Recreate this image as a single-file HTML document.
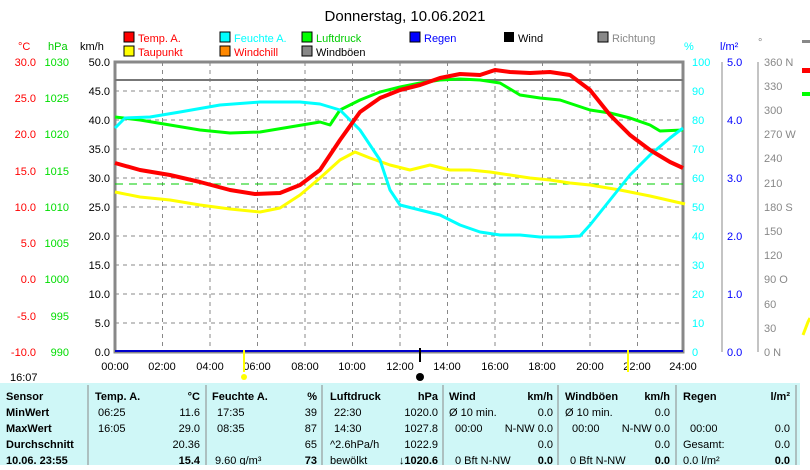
<!DOCTYPE html><html><head><style>body{margin:0;background:#fff;width:810px;height:465px;overflow:hidden;font-family:"Liberation Sans",sans-serif}
svg text{font-family:"Liberation Sans",sans-serif;font-size:11px}</style></head><body>
<svg width="810" height="465" viewBox="0 0 810 465" xmlns="http://www.w3.org/2000/svg">
<text x="405" y="21" text-anchor="middle" style="font-size:15px">Donnerstag, 10.06.2021</text>
<g style="font-size:11px">
<rect x="124" y="32" width="10" height="10" fill="#f00" stroke="#000"/><text x="138" y="42" fill="#f00">Temp. A.</text>
<rect x="124" y="46" width="10" height="10" fill="#ff0" stroke="#000"/><text x="138" y="56" fill="#f00">Taupunkt</text>
<rect x="220" y="32" width="10" height="10" fill="#0ff" stroke="#000"/><text x="234" y="42" fill="#0ff">Feuchte A.</text>
<rect x="220" y="46" width="10" height="10" fill="#f80" stroke="#000"/><text x="234" y="56" fill="#f00">Windchill</text>
<rect x="302" y="32" width="10" height="10" fill="#0f0" stroke="#000"/><text x="316" y="42" fill="#0c0">Luftdruck</text>
<rect x="302" y="46" width="10" height="10" fill="#888" stroke="#000"/><text x="316" y="56">Windböen</text>
<rect x="410" y="32" width="10" height="10" fill="#00f" stroke="#000"/><text x="424" y="42" fill="#00f">Regen</text>
<rect x="504" y="32" width="10" height="10" fill="#000"/><text x="518" y="42">Wind</text>
<rect x="598" y="32" width="10" height="10" fill="#888" stroke="#000"/><text x="612" y="42" fill="#888">Richtung</text>
<text x="18" y="50" fill="#f00">°C</text><text x="48" y="50" fill="#0c0">hPa</text><text x="80" y="50">km/h</text>
<text x="684" y="50" fill="#0ff">%</text><text x="720" y="50" fill="#00f">l/m²</text><text x="758" y="46" fill="#888">°</text>
</g>
<g stroke="#888" stroke-dasharray="4,4" stroke-width="1">
<path d="M115 91H683M115 120H683M115 149H683M115 178H683M115 207H683M115 236H683M115 265H683M115 294H683M115 323H683"/>
<path d="M162.5 62V352M210 62V352M257.5 62V352M305 62V352M352.5 62V352M400 62V352M447.5 62V352M495 62V352M542.5 62V352M590 62V352M637.5 62V352"/>
</g>
<rect x="115" y="62" width="568" height="290" fill="none" stroke="#888" stroke-width="3"/>
<line x1="115" y1="80" x2="683" y2="80" stroke="#777" stroke-width="2"/>
<line x1="115" y1="351" x2="683" y2="351" stroke="#00c" stroke-width="2"/>
<line x1="115" y1="184" x2="683" y2="184" stroke="#0c0" stroke-dasharray="8,6"/>
<g fill="none" stroke-width="3" stroke-linejoin="round">
<polyline stroke="#ff0" points="115,192 140,197 170,200 200,205 230,209 260,212 280,208 300,195 320,178 340,160 355,152 370,158 390,165 410,170 430,165 450,170 470,170 490,172 510,175 530,178 550,180 570,183 590,185 620,190 650,196 685,204"/>
<polyline stroke="#0f0" points="115,117 140,120 170,125 200,130 230,133 260,132 290,127 320,122 330,125 340,110 360,100 380,92 400,87 420,83 440,80 460,79 480,80 500,83 520,95 540,98 560,100 575,105 590,110 610,113 630,118 650,125 660,131 683,130"/>
<polyline stroke="#0ff" points="115,128 125,118 150,117 180,112 220,105 260,102 300,102 320,104 340,110 360,130 380,160 390,190 400,205 420,210 440,215 460,225 480,232 500,235 520,235 540,237 560,237 580,236 590,225 610,200 630,175 650,155 670,138 683,128"/>
<polyline stroke="#f00" stroke-width="4" points="115,163 140,170 170,175 200,182 230,190 255,194 280,193 300,185 320,170 340,140 360,112 380,98 400,90 420,85 440,78 460,74 480,75 495,70 510,72 530,73 550,72 570,75 590,90 610,115 630,135 650,150 670,162 683,168"/>
</g>
<g style="font-size:11px" text-anchor="end" fill="#f00">
<text x="36" y="66">30.0</text><text x="36" y="102">25.0</text><text x="36" y="138">20.0</text><text x="36" y="175">15.0</text><text x="36" y="211">10.0</text><text x="36" y="247">5.0</text><text x="36" y="283">0.0</text><text x="36" y="320">-5.0</text><text x="36" y="356">-10.0</text>
</g>
<g style="font-size:11px" text-anchor="end" fill="#0d0">
<text x="69" y="66">1030</text><text x="69" y="102">1025</text><text x="69" y="138">1020</text><text x="69" y="175">1015</text><text x="69" y="211">1010</text><text x="69" y="247">1005</text><text x="69" y="283">1000</text><text x="69" y="320">995</text><text x="69" y="356">990</text>
</g>
<g style="font-size:11px" text-anchor="end">
<text x="110" y="66">50.0</text><text x="110" y="95">45.0</text><text x="110" y="124">40.0</text><text x="110" y="153">35.0</text><text x="110" y="182">30.0</text><text x="110" y="211">25.0</text><text x="110" y="240">20.0</text><text x="110" y="269">15.0</text><text x="110" y="298">10.0</text><text x="110" y="327">5.0</text><text x="110" y="356">0.0</text>
</g>
<g style="font-size:11px" fill="#0ff">
<text x="692" y="66">100</text><text x="692" y="95">90</text><text x="692" y="124">80</text><text x="692" y="153">70</text><text x="692" y="182">60</text><text x="692" y="211">50</text><text x="692" y="240">40</text><text x="692" y="269">30</text><text x="692" y="298">20</text><text x="692" y="327">10</text><text x="692" y="356">0</text>
</g>
<line x1="722" y1="62" x2="722" y2="352" stroke="#888"/>
<g style="font-size:11px" fill="#00f">
<text x="727" y="66">5.0</text><text x="727" y="124">4.0</text><text x="727" y="182">3.0</text><text x="727" y="240">2.0</text><text x="727" y="298">1.0</text><text x="727" y="356">0.0</text>
</g>
<line x1="758" y1="62" x2="758" y2="352" stroke="#888"/>
<g style="font-size:11px" fill="#888">
<text x="764" y="66">360 N</text><text x="764" y="90">330</text><text x="764" y="114">300</text><text x="764" y="138">270 W</text><text x="764" y="162">240</text><text x="764" y="187">210</text><text x="764" y="211">180 S</text><text x="764" y="235">150</text><text x="764" y="259">120</text><text x="764" y="283">90  O</text><text x="764" y="308">60</text><text x="764" y="332">30</text><text x="764" y="356">0   N</text>
</g>
<g style="font-size:11px" text-anchor="middle">
<text x="115" y="370">00:00</text><text x="162" y="370">02:00</text><text x="210" y="370">04:00</text><text x="257" y="370">06:00</text><text x="305" y="370">08:00</text><text x="352" y="370">10:00</text><text x="400" y="370">12:00</text><text x="447" y="370">14:00</text><text x="495" y="370">16:00</text><text x="542" y="370">18:00</text><text x="590" y="370">20:00</text><text x="637" y="370">22:00</text><text x="683" y="370">24:00</text>
</g>
<line x1="420" y1="348" x2="420" y2="362" stroke="#000" stroke-width="2"/><circle cx="420" cy="377" r="4"/>
<line x1="244" y1="350" x2="244" y2="372" stroke="#ff0" stroke-width="2"/><circle cx="244" cy="377" r="3" fill="#ff0"/>
<line x1="628" y1="350" x2="628" y2="372" stroke="#ff0" stroke-width="2"/>
<text x="10" y="381" style="font-size:11px">16:07</text>
<rect x="0" y="383" width="800" height="82" fill="#cff7f7"/>
<g stroke="#888"><path d="M88 385V465M206 385V465M322 385V465M443 385V465M558 385V465M676 385V465M796 385V465"/></g>
<g style="font-size:11px;font-weight:bold">
<text x="6" y="400">Sensor</text><text x="6" y="416">MinWert</text><text x="6" y="432">MaxWert</text><text x="6" y="448">Durchschnitt</text><text x="6" y="464">10.06. 23:55</text>
<text x="95" y="400">Temp. A.</text><text x="200" y="400" text-anchor="end">°C</text>
<text x="212" y="400">Feuchte A.</text><text x="317" y="400" text-anchor="end">%</text>
<text x="330" y="400">Luftdruck</text><text x="438" y="400" text-anchor="end">hPa</text>
<text x="449" y="400">Wind</text><text x="553" y="400" text-anchor="end">km/h</text>
<text x="565" y="400">Windböen</text><text x="670" y="400" text-anchor="end">km/h</text>
<text x="683" y="400">Regen</text><text x="790" y="400" text-anchor="end">l/m²</text>
</g>
<g style="font-size:11px">
<text x="98" y="416">06:25</text><text x="200" y="416" text-anchor="end">11.6</text>
<text x="98" y="432">16:05</text><text x="200" y="432" text-anchor="end">29.0</text>
<text x="200" y="448" text-anchor="end">20.36</text>
<text x="200" y="464" text-anchor="end" font-weight="bold">15.4</text>
<text x="217" y="416">17:35</text><text x="317" y="416" text-anchor="end">39</text>
<text x="217" y="432">08:35</text><text x="317" y="432" text-anchor="end">87</text>
<text x="317" y="448" text-anchor="end">65</text>
<text x="215" y="464">9.60 g/m³</text><text x="317" y="464" text-anchor="end" font-weight="bold">73</text>
<text x="334" y="416">22:30</text><text x="438" y="416" text-anchor="end">1020.0</text>
<text x="334" y="432">14:30</text><text x="438" y="432" text-anchor="end">1027.8</text>
<text x="330" y="448">^2.6hPa/h</text><text x="438" y="448" text-anchor="end">1022.9</text>
<text x="330" y="464">bewölkt</text><text x="438" y="464" text-anchor="end" font-weight="bold">↓1020.6</text>
<text x="449" y="416">Ø 10 min.</text><text x="553" y="416" text-anchor="end">0.0</text>
<text x="455" y="432">00:00</text><text x="553" y="432" text-anchor="end">N-NW 0.0</text>
<text x="553" y="448" text-anchor="end">0.0</text>
<text x="455" y="464">0 Bft N-NW</text><text x="553" y="464" text-anchor="end" font-weight="bold">0.0</text>
<text x="565" y="416">Ø 10 min.</text><text x="670" y="416" text-anchor="end">0.0</text>
<text x="572" y="432">00:00</text><text x="670" y="432" text-anchor="end">N-NW 0.0</text>
<text x="670" y="448" text-anchor="end">0.0</text>
<text x="570" y="464">0 Bft N-NW</text><text x="670" y="464" text-anchor="end" font-weight="bold">0.0</text>
<text x="690" y="432">00:00</text><text x="790" y="432" text-anchor="end">0.0</text>
<text x="683" y="448">Gesamt:</text><text x="790" y="448" text-anchor="end">0.0</text>
<text x="683" y="464">0.0 l/m²</text><text x="790" y="464" text-anchor="end" font-weight="bold">0.0</text>
</g>
<rect x="802" y="40" width="8" height="3" fill="#888"/><rect x="802" y="68" width="8" height="5" fill="#f00"/><rect x="802" y="92" width="8" height="4" fill="#0f0"/>
<path d="M803 335L808 322L810 318" stroke="#ff0" stroke-width="3" fill="none"/>
</svg>
</body></html>
